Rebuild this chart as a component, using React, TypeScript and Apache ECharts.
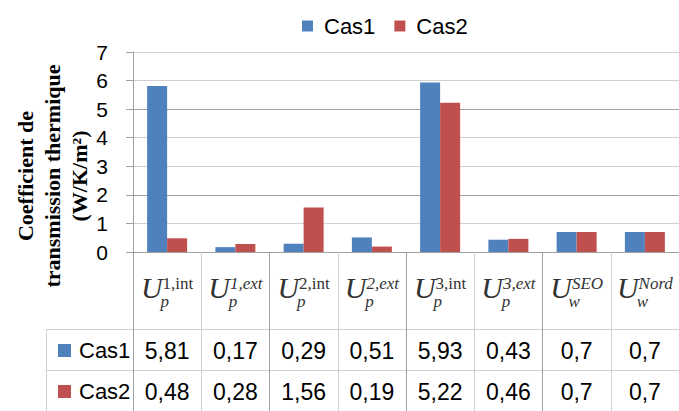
import React, { useEffect, useRef } from 'react';
import * as echarts from 'echarts';

const categorySup = ['1,int', '1,ext', '2,int', '2,ext', '3,int', '3,ext', 'SEO', 'Nord'];
const categorySub = ['p', 'p', 'p', 'p', 'p', 'p', 'w', 'w'];
const categories = categorySup.map((s, i) => `U_${categorySub[i]}^${s}`);
const cas1 = [5.81, 0.17, 0.29, 0.51, 5.93, 0.43, 0.7, 0.7];
const cas2 = [0.48, 0.28, 1.56, 0.19, 5.22, 0.46, 0.7, 0.7];
const seriesNames = ['Cas1', 'Cas2'];
const seriesColors = ['#4F81BD', '#C0504D'];
const yMin = 0;
const yMax = 7;
const yStep = 1;
const yTitleLines = ['Coefficient de', 'transmission thermique', '(W/K/m²)'];

const fmt = (v: number) => String(v).replace('.', ',');
const SANS = "'Liberation Sans', Arial, sans-serif";
const SERIF = "'Liberation Serif', 'Times New Roman', serif";
const LIGHT = '#D0D0D0';
const DARK = '#A0A0A0';

export default function App() {
  const ref = useRef<HTMLDivElement>(null);
  useEffect(() => {
    document.body.style.margin = '0';
    const chart = echarts.init(ref.current!, null, { renderer: 'svg' });
    const rowAxis = (values: number[], offset: number) => ({
      type: 'category',
      data: categories,
      position: 'bottom',
      offset,
      axisLine: { show: false },
      axisTick: { show: false },
      axisLabel: {
        interval: 0,
        margin: 0,
        fontSize: 23,
        fontFamily: SANS,
        color: '#000',
        formatter: (_v: string, i: number) => fmt(values[i]),
      },
    });
    chart.setOption({
      animation: false,
      legend: {
        data: seriesNames,
        left: 297,
        top: 10,
        icon: 'rect',
        itemWidth: 11,
        itemHeight: 11,
        itemGap: 19,
        textStyle: { fontSize: 22, fontFamily: SANS, color: '#000', padding: [0, 0, 0, 6] },
      },
      grid: { left: 133, top: 52, width: 552, height: 200 },
      xAxis: [
        {
          type: 'category',
          data: categories,
          axisLine: { show: true, lineStyle: { color: DARK } },
          axisTick: { show: true, length: 159, lineStyle: { color: LIGHT } },
          axisLabel: {
            interval: 0,
            margin: 23,
            formatter: (_v: string, i: number) => {
              const sup = categorySup[i];
              const supStyle = sup.indexOf('int') >= 0 ? 'supR' : 'supI';
              return `{U|U}{${supStyle}|${sup}}\n{sub|${categorySub[i]}}`;
            },
            rich: {
              U: { fontFamily: SERIF, fontStyle: 'italic', fontSize: 30, lineHeight: 24, color: '#333' },
              supR: { fontFamily: SERIF, fontSize: 17, lineHeight: 12, verticalAlign: 'top', color: '#333' },
              supI: { fontFamily: SERIF, fontStyle: 'italic', fontSize: 17, lineHeight: 12, verticalAlign: 'top', color: '#333' },
              sub: { fontFamily: SERIF, fontStyle: 'italic', fontSize: 17, lineHeight: 4, padding: [0, 5, 0, 0], color: '#333' },
            },
          },
        },
        rowAxis(cas1, 87),
        rowAxis(cas2, 128),
        {
          type: 'category',
          data: categories,
          position: 'bottom',
          axisLine: { show: false },
          axisLabel: { show: false },
          axisTick: { show: true, interval: 1, length: 159, lineStyle: { color: DARK } },
        },
      ],
      yAxis: {
        type: 'value',
        min: yMin,
        max: yMax,
        interval: yStep,
        axisLine: { show: true, lineStyle: { color: DARK } },
        axisTick: { show: true, length: 7, lineStyle: { color: DARK } },
        axisLabel: { margin: 25, fontSize: 21, fontFamily: SANS, color: '#000' },
        splitLine: { show: true, lineStyle: { color: [LIGHT, LIGHT, DARK] } },
      },
      series: [
        { name: seriesNames[0], type: 'bar', data: cas1, barWidth: 20, barGap: '0%', itemStyle: { color: seriesColors[0] } },
        { name: seriesNames[1], type: 'bar', data: cas2, barWidth: 20, barGap: '0%', itemStyle: { color: seriesColors[1] } },
      ],
      graphic: [
        {
          type: 'text',
          x: 52,
          y: 176,
          rotation: Math.PI / 2,
          style: {
            text: yTitleLines.join('\n'),
            font: `bold 22px ${SERIF}`,
            lineHeight: 27,
            textAlign: 'center',
            textVerticalAlign: 'middle',
            fill: '#000',
          },
        },
        { type: 'line', shape: { x1: 46, y1: 329.5, x2: 679, y2: 329.5 }, style: { stroke: LIGHT, lineWidth: 1 } },
        { type: 'line', shape: { x1: 46, y1: 370.5, x2: 679, y2: 370.5 }, style: { stroke: LIGHT, lineWidth: 1 } },
        { type: 'line', shape: { x1: 46.5, y1: 329, x2: 46.5, y2: 411 }, style: { stroke: LIGHT, lineWidth: 1 } },
        ...seriesNames.flatMap((name, i) => [
          { type: 'rect', shape: { x: 58, y: 344 + i * 41, width: 13, height: 13 }, style: { fill: seriesColors[i] } },
          {
            type: 'text',
            x: 79,
            y: 350 + i * 41,
            style: { text: name, font: `22px ${SANS}`, fill: '#000', textVerticalAlign: 'middle' },
          },
        ]),
      ],
    });
    return () => chart.dispose();
  }, []);
  return <div ref={ref} style={{ width: 679, height: 411 }} />;
}
